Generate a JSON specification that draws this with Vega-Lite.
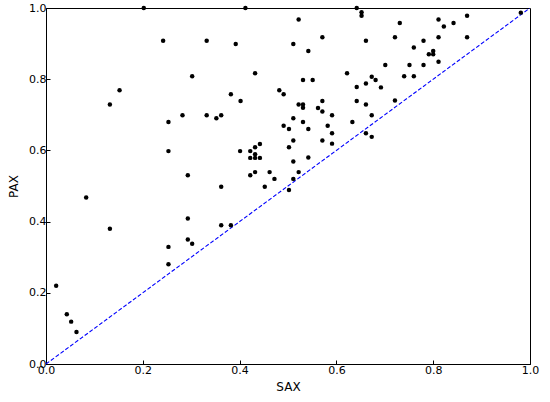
{
  "$schema": "https://vega.github.io/schema/vega-lite/v6.json",
  "width": 484,
  "height": 356,
  "autosize": {"type": "none"},
  "padding": {"left": 46, "top": 8, "right": 20, "bottom": 38},
  "background": "white",
  "config": {
    "view": {"stroke": "black", "strokeWidth": 1},
    "font": "DejaVu Sans",
    "axis": {
      "grid": false,
      "domainColor": "black",
      "tickColor": "black",
      "tickSize": -4,
      "labelColor": "black",
      "titleColor": "black",
      "labelFontSize": 11,
      "titleFontSize": 12,
      "titleFontWeight": "normal",
      "labelPadding": 4,
      "labelFlush": false,
      "labelOverlap": false
    }
  },
  "datasets": {
    "pts": [
      {"SAX": 0.021, "PAX": 0.220}, {"SAX": 0.043, "PAX": 0.140}, {"SAX": 0.052, "PAX": 0.119}, {"SAX": 0.063, "PAX": 0.090},
      {"SAX": 0.083, "PAX": 0.468}, {"SAX": 0.132, "PAX": 0.380}, {"SAX": 0.132, "PAX": 0.729}, {"SAX": 0.152, "PAX": 0.769},
      {"SAX": 0.202, "PAX": 1.000}, {"SAX": 0.242, "PAX": 0.908}, {"SAX": 0.253, "PAX": 0.680}, {"SAX": 0.253, "PAX": 0.598},
      {"SAX": 0.253, "PAX": 0.329}, {"SAX": 0.253, "PAX": 0.280}, {"SAX": 0.282, "PAX": 0.699}, {"SAX": 0.293, "PAX": 0.530},
      {"SAX": 0.293, "PAX": 0.409}, {"SAX": 0.293, "PAX": 0.350}, {"SAX": 0.302, "PAX": 0.808}, {"SAX": 0.302, "PAX": 0.338},
      {"SAX": 0.332, "PAX": 0.908}, {"SAX": 0.332, "PAX": 0.699}, {"SAX": 0.352, "PAX": 0.690}, {"SAX": 0.362, "PAX": 0.699},
      {"SAX": 0.362, "PAX": 0.498}, {"SAX": 0.362, "PAX": 0.390}, {"SAX": 0.382, "PAX": 0.758}, {"SAX": 0.382, "PAX": 0.390},
      {"SAX": 0.392, "PAX": 0.899}, {"SAX": 0.402, "PAX": 0.739}, {"SAX": 0.401, "PAX": 0.598}, {"SAX": 0.412, "PAX": 1.000},
      {"SAX": 0.422, "PAX": 0.598}, {"SAX": 0.422, "PAX": 0.579}, {"SAX": 0.422, "PAX": 0.530}, {"SAX": 0.432, "PAX": 0.817},
      {"SAX": 0.432, "PAX": 0.609}, {"SAX": 0.432, "PAX": 0.589}, {"SAX": 0.432, "PAX": 0.579}, {"SAX": 0.432, "PAX": 0.539},
      {"SAX": 0.442, "PAX": 0.618}, {"SAX": 0.442, "PAX": 0.579}, {"SAX": 0.452, "PAX": 0.498}, {"SAX": 0.462, "PAX": 0.539},
      {"SAX": 0.472, "PAX": 0.520}, {"SAX": 0.482, "PAX": 0.769}, {"SAX": 0.491, "PAX": 0.758}, {"SAX": 0.491, "PAX": 0.669},
      {"SAX": 0.502, "PAX": 0.660}, {"SAX": 0.502, "PAX": 0.609}, {"SAX": 0.502, "PAX": 0.489}, {"SAX": 0.511, "PAX": 0.899},
      {"SAX": 0.511, "PAX": 0.690}, {"SAX": 0.511, "PAX": 0.628}, {"SAX": 0.511, "PAX": 0.569}, {"SAX": 0.511, "PAX": 0.520},
      {"SAX": 0.522, "PAX": 0.968}, {"SAX": 0.522, "PAX": 0.729}, {"SAX": 0.522, "PAX": 0.539}, {"SAX": 0.531, "PAX": 0.798},
      {"SAX": 0.531, "PAX": 0.729}, {"SAX": 0.531, "PAX": 0.720}, {"SAX": 0.531, "PAX": 0.680}, {"SAX": 0.542, "PAX": 0.879},
      {"SAX": 0.542, "PAX": 0.660}, {"SAX": 0.542, "PAX": 0.580}, {"SAX": 0.551, "PAX": 0.798}, {"SAX": 0.562, "PAX": 0.719},
      {"SAX": 0.571, "PAX": 0.918}, {"SAX": 0.571, "PAX": 0.739}, {"SAX": 0.571, "PAX": 0.709}, {"SAX": 0.571, "PAX": 0.628},
      {"SAX": 0.582, "PAX": 0.669}, {"SAX": 0.591, "PAX": 0.699}, {"SAX": 0.591, "PAX": 0.648}, {"SAX": 0.591, "PAX": 0.619},
      {"SAX": 0.622, "PAX": 0.817}, {"SAX": 0.633, "PAX": 0.680}, {"SAX": 0.642, "PAX": 1.000}, {"SAX": 0.642, "PAX": 0.778},
      {"SAX": 0.642, "PAX": 0.739}, {"SAX": 0.652, "PAX": 0.988}, {"SAX": 0.652, "PAX": 0.978}, {"SAX": 0.661, "PAX": 0.908},
      {"SAX": 0.661, "PAX": 0.788}, {"SAX": 0.661, "PAX": 0.729}, {"SAX": 0.661, "PAX": 0.648}, {"SAX": 0.673, "PAX": 0.807},
      {"SAX": 0.673, "PAX": 0.699}, {"SAX": 0.673, "PAX": 0.638}, {"SAX": 0.681, "PAX": 0.798}, {"SAX": 0.692, "PAX": 0.777},
      {"SAX": 0.701, "PAX": 0.840}, {"SAX": 0.721, "PAX": 0.918}, {"SAX": 0.721, "PAX": 0.740}, {"SAX": 0.731, "PAX": 0.958},
      {"SAX": 0.740, "PAX": 0.808}, {"SAX": 0.751, "PAX": 0.840}, {"SAX": 0.760, "PAX": 0.889}, {"SAX": 0.760, "PAX": 0.808},
      {"SAX": 0.780, "PAX": 0.908}, {"SAX": 0.780, "PAX": 0.840}, {"SAX": 0.791, "PAX": 0.870}, {"SAX": 0.800, "PAX": 0.879},
      {"SAX": 0.800, "PAX": 0.870}, {"SAX": 0.811, "PAX": 0.968}, {"SAX": 0.811, "PAX": 0.918}, {"SAX": 0.811, "PAX": 0.849},
      {"SAX": 0.822, "PAX": 0.948}, {"SAX": 0.842, "PAX": 0.958}, {"SAX": 0.870, "PAX": 0.978}, {"SAX": 0.870, "PAX": 0.918},
      {"SAX": 0.981, "PAX": 0.987}
    ],
    "diag": [{"SAX": 0, "PAX": 0}, {"SAX": 1, "PAX": 1}]
  },
  "layer": [
    {
      "data": {"name": "diag"},
      "mark": {"type": "line", "color": "blue", "strokeDash": [4, 2], "strokeWidth": 1.1, "clip": true},
      "encoding": {
        "x": {"field": "SAX", "type": "quantitative", "scale": {"domain": [0, 1], "nice": false},
              "axis": {"values": [0, 0.2, 0.4, 0.6, 0.8, 1.0], "format": ".1f", "title": "SAX", "titlePadding": 6}},
        "y": {"field": "PAX", "type": "quantitative", "scale": {"domain": [0, 1], "nice": false},
              "axis": {"values": [0, 0.2, 0.4, 0.6, 0.8, 1.0], "format": ".1f", "title": "PAX", "titlePadding": 8}}
      }
    },
    {
      "data": {"name": "pts"},
      "mark": {"type": "circle", "color": "black", "opacity": 1, "size": 20, "clip": false},
      "encoding": {
        "x": {"field": "SAX", "type": "quantitative"},
        "y": {"field": "PAX", "type": "quantitative"}
      }
    }
  ]
}
